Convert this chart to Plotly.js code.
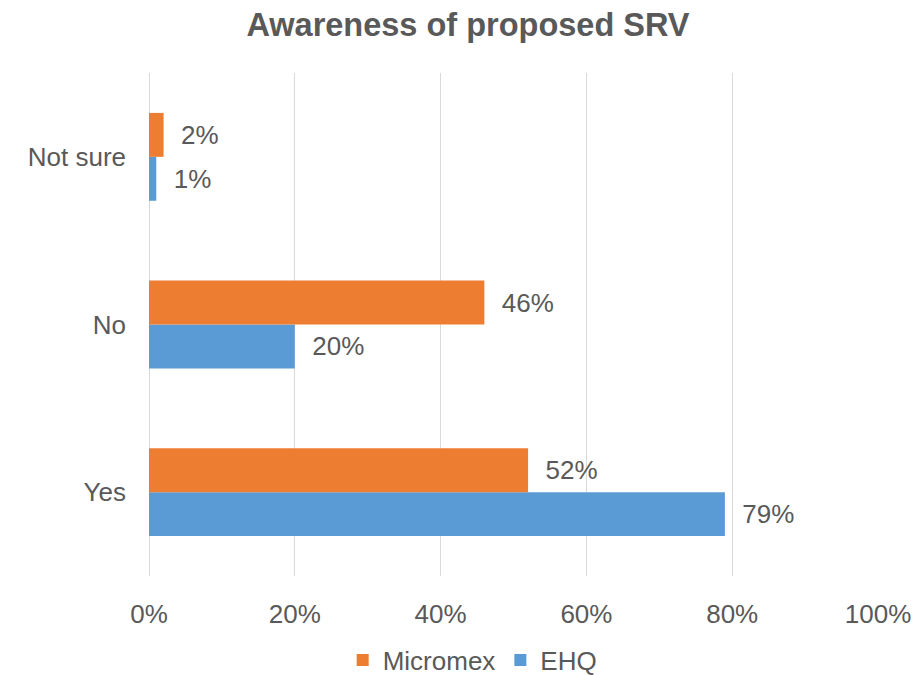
<!DOCTYPE html>
<html>
<head>
<meta charset="utf-8">
<script src="https://cdn.plot.ly/plotly-3.0.1.min.js"></script>
<style>html,body{margin:0;padding:0;background:#fff;}#chart{width:914px;height:675px;}</style>
</head>
<body>
<div id="chart"></div>
<script>
var categories = ['Yes', 'No', 'Not sure'];
var micromex = [52, 46, 2];
var ehq = [79, 20, 1];
var xTickVals = [0, 20, 40, 60, 80, 100];
var xTickText = ['0%', '20%', '40%', '60%', '80%', '100%'];

var textColor = '#595959';
var fontFam = 'Liberation Sans, Arial, sans-serif';

var traces = [
  {
    type: 'bar', orientation: 'h', name: 'EHQ',
    y: categories, x: ehq,
    marker: {color: '#5B9BD5'},
    texttemplate: '\u00a0\u00a0%{x:.0f}%', textposition: 'outside', cliponaxis: false,
    textfont: {size: 26, color: textColor, family: fontFam},
    hoverinfo: 'none'
  },
  {
    type: 'bar', orientation: 'h', name: 'Micromex',
    y: categories, x: micromex,
    marker: {color: '#ED7D31'},
    texttemplate: '\u00a0\u00a0%{x:.0f}%', textposition: 'outside', cliponaxis: false,
    textfont: {size: 26, color: textColor, family: fontFam},
    hoverinfo: 'none'
  }
];

var layout = {
  width: 914, height: 675,
  margin: {l: 149, r: 36, t: 73, b: 99, autoexpand: false},
  paper_bgcolor: '#fff', plot_bgcolor: '#fff',
  font: {family: fontFam, color: textColor, size: 26},
  title: {text: '<b>Awareness of proposed SRV</b>', x: 0.512, xanchor: 'center', y: 0.963, yanchor: 'middle',
          font: {size: 32.5, color: textColor, family: fontFam}},
  barmode: 'group', bargap: 0.476, bargroupgap: 0,
  xaxis: {range: [0, 100], tickvals: xTickVals, ticktext: xTickText, showgrid: true, automargin: false,
          gridcolor: '#d9d9d9', gridwidth: 1, zeroline: true, zerolinecolor: '#d9d9d9', zerolinewidth: 1,
          showline: false, ticks: '', ticklabelstandoff: 20, tickfont: {size: 26, color: textColor}},
  yaxis: {categoryorder: 'array', categoryarray: categories, showgrid: false, zeroline: false, automargin: false,
          showline: false, ticks: '', ticklabelstandoff: 22, tickfont: {size: 26, color: textColor}},
  legend: {orientation: 'h', traceorder: 'reversed', x: 0.444, xanchor: 'center', y: -0.167, yanchor: 'middle',
           itemwidth: 30, font: {size: 26, color: textColor}},
  showlegend: true
};

Plotly.newPlot('chart', traces, layout, {displayModeBar: false, staticPlot: true});
</script>
</body>
</html>
